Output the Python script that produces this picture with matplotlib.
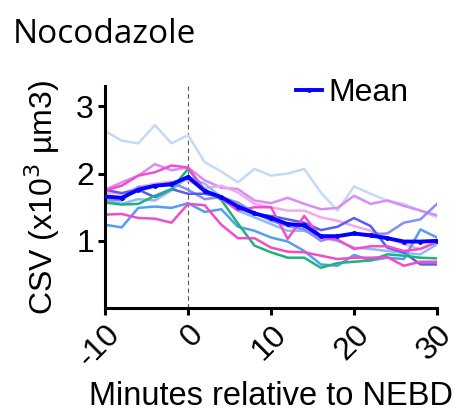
import numpy as np
import matplotlib
matplotlib.use("Agg")
import matplotlib.pyplot as plt

# minutes relative to NEBD (2 min sampling)
minutes = list(range(-10, 31, 2))

# individual cells
cell_lightblue = [2.63, 2.49, 2.45, 2.72, 2.45, 2.57, 2.17, 2.03, 1.87, 2.07, 1.97,
                  2.00, 2.07, 1.72, 1.45, 1.81, 1.70, 1.60, 1.55, 1.45, 1.35]
cell_violet = [1.76, 1.87, 1.97, 2.14, 2.05, 2.09, 1.90, 1.79, 1.77, 1.60, 1.56,
               1.64, 1.55, 1.47, 1.49, 1.67, 1.55, 1.60, 1.52, 1.45, 1.38]
cell_lightpink = [1.72, 1.70, 1.80, 1.85, 1.88, 1.90, 1.78, 1.82, 1.72, 1.55, 1.50,
                  1.45, 1.45, 1.35, 1.30, 1.22, 1.15, 1.05, 0.95, 0.88, 1.00]
cell_magenta_a = [1.75, 1.82, 1.97, 2.02, 2.12, 2.09, 1.75, 1.63, 1.45, 1.50, 1.50,
                  1.03, 1.37, 1.05, 1.02, 0.88, 0.92, 0.92, 0.85, 0.88, 0.98]
cell_magenta_b = [1.39, 1.40, 1.34, 1.33, 1.27, 1.55, 1.53, 1.24, 1.04, 1.04, 0.90,
                  0.84, 0.83, 0.78, 0.73, 0.75, 0.75, 0.76, 0.63, 0.69, 0.69]
cell_green = [1.57, 1.54, 1.55, 1.67, 1.77, 2.07, 1.76, 1.61, 1.26, 0.93, 0.83,
              0.75, 0.75, 0.60, 0.67, 0.69, 0.71, 0.80, 0.78, 0.75, 0.74]
cell_blue = [1.24, 1.20, 1.49, 1.51, 1.49, 1.56, 1.43, 1.47, 1.21, 1.15, 1.05,
             0.99, 0.85, 0.65, 0.63, 0.79, 0.71, 0.75, 0.73, 1.17, 1.05]
cell_slate = [1.76, 1.71, 1.76, 1.65, 1.77, 1.70, 1.70, 1.65, 1.50, 1.40, 1.37,
              1.32, 1.27, 1.16, 1.21, 1.34, 1.22, 0.90, 0.83, 0.65, 0.65]
cell_periwinkle = [1.62, 1.60, 1.80, 1.81, 1.87, 1.76, 1.62, 1.65, 1.57, 1.42, 1.30,
                   1.22, 1.17, 1.00, 1.07, 1.10, 1.10, 1.11, 1.27, 1.32, 1.55]
cell_skyblue = [1.60, 1.55, 1.62, 1.60, 1.75, 1.95, 1.85, 1.65, 1.45, 1.35, 1.25,
                1.15, 1.15, 1.05, 1.00, 0.90, 0.88, 0.85, 0.82, 0.80, 0.95]

mean_csv = [1.66, 1.64, 1.76, 1.82, 1.84, 1.95, 1.74, 1.65, 1.51, 1.41, 1.34,
            1.25, 1.23, 1.07, 1.07, 1.11, 1.08, 1.04, 0.99, 0.99, 1.00]

cells = [
    (cell_lightblue, "#c3daf6"),
    (cell_violet, "#d98cf2"),
    (cell_lightpink, "#f4a8ec"),
    (cell_skyblue, "#8cbcf4"),
    (cell_periwinkle, "#8c8cf4"),
    (cell_slate, "#5c5cf0"),
    (cell_blue, "#529ef4"),
    (cell_green, "#1db37a"),
    (cell_magenta_b, "#f24cc8"),
    (cell_magenta_a, "#f44ccc"),
]

plt.rcParams["font.family"] = ["Liberation Sans", "DejaVu Sans"]

fig = plt.figure(figsize=(4.61, 4.12), dpi=100)
ax = fig.add_axes([0.228, 0.252, 0.720, 0.539])

for vals, col in cells:
    ax.plot(minutes, vals, color=col, lw=1.8, zorder=2)

ax.plot(minutes, mean_csv, color="#0000ff", lw=2.8, marker="o", ms=2.5,
        label="Mean", zorder=3)

ax.axvline(0, color="#555555", lw=0.8, ls=(0, (4, 3)), zorder=1)

ax.set_xlim(-10, 30)
ax.set_ylim(0, 3.3)
ax.set_xticks([-10, 0, 10, 20, 30])
ax.set_xticklabels(["-10", "0", "10", "20", "30"], rotation=45,
                   ha="right", va="top", rotation_mode="anchor")
ax.set_yticks([1, 2, 3])

for side in ["top", "right"]:
    ax.spines[side].set_visible(False)
for side in ["left", "bottom"]:
    ax.spines[side].set_linewidth(2.2)
ax.tick_params(width=2.2, length=5, labelsize=23, pad=3)

ax.set_xlabel("Minutes relative to NEBD", fontsize=23.5, labelpad=6)
ax.set_ylabel(r"CSV (x10$^{3}$ µm3)", fontsize=23, labelpad=10)

leg = ax.legend(loc="upper right", frameon=False, fontsize=23, handlelength=0.8,
                handletextpad=0.2, bbox_to_anchor=(1.0, 1.165))

fig.text(0.028, 0.895, "Nocodazole", fontsize=24, ha="left", va="baseline",
         family=["Open Sans", "DejaVu Sans"])

fig.savefig("out.png", dpi=100)
